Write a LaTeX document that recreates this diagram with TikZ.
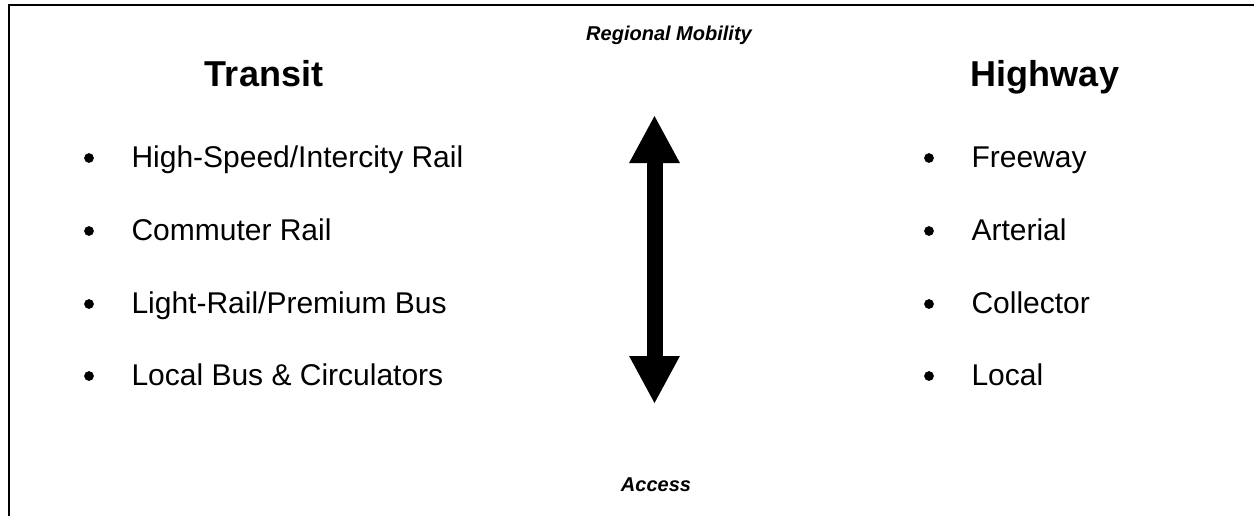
\documentclass[tikz,border=0pt]{standalone}
\usepackage{fontspec}
\setmainfont{Liberation Sans}
\usepackage{tikz}
\usetikzlibrary{arrows.meta, positioning}

\begin{document}
\begin{tikzpicture}[x=0.4pt, y=-0.4pt,
  title/.style={font=\fontsize{14.4}{17}\selectfont\bfseries, inner sep=0pt, anchor=base},
  item/.style={font=\fontsize{12}{14}\selectfont, inner sep=0pt, anchor=base west},
  dot/.style={circle, fill, inner sep=0pt, minimum size=3.9pt},
  axislabel/.style={font=\fontsize{8}{10}\selectfont\bfseries\itshape, inner sep=0pt, anchor=base},
  bigarrow/.style={line width=6.4pt, {Triangle[width=18.8pt, length=19.2pt]}-{Triangle[width=18.8pt, length=19.2pt]}}]
  \useasboundingbox (0,0) rectangle (1254,516);
  % frame (top and left edge only)
  \draw[line width=0.8pt] (9,516) -- (9,5) -- (1254,5);
  % headings
  \node[title] (transit) at (264,86) {Transit};
  \node[title] (highway) at (1045,86) {Highway};
  \node[axislabel] (mobility) at (669,40) {Regional Mobility};
  \node[axislabel] (access) at (656,491) {Access};
  % transit modes
  \foreach \y/\name/\txt in {167/hsr/{High-Speed/Intercity Rail}, 240/commrail/{Commuter Rail},
      313/lrt/{Light-Rail/Premium Bus}, 385/localbus/{Local Bus \& Circulators}} {
    \node[dot] at (89,\y-9) {};
    \node[item] (\name) at (131,\y) {\txt};
  }
  % highway classes
  \foreach \y/\name/\txt in {167/freeway/Freeway, 240/arterial/Arterial,
      313/collector/Collector, 385/local/Local} {
    \node[dot] at (929,\y-9) {};
    \node[item] (\name) at (971,\y) {\txt};
  }
  % mobility vs access arrow
  \coordinate (arrtop) at (654.5,115);
  \coordinate (arrbot) at (654.5,404);
  \draw[bigarrow] (arrtop) -- (arrbot);
\end{tikzpicture}
\end{document}
